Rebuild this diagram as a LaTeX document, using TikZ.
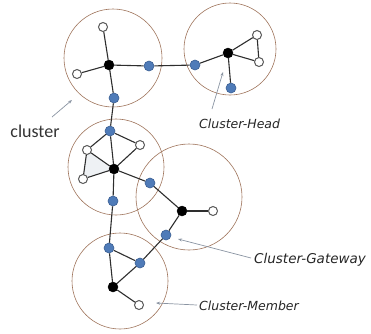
\documentclass[tikz,border=0pt]{standalone}
\usepackage{fontspec}
\setmainfont{Carlito}
\newfontfamily\annfont{DejaVu Sans}
\usetikzlibrary{arrows.meta}
\definecolor{ringc}{HTML}{9E735A}
\definecolor{bluen}{HTML}{4F7BB8}
\definecolor{bluedk}{HTML}{3A5E92}
\definecolor{edgec}{HTML}{2E2E2E}
\definecolor{ptrc}{HTML}{8A94A2}
\definecolor{shadec}{HTML}{EEF1F4}
\tikzset{
  ring/.style={draw=ringc, line width=0.6pt, circle, inner sep=0pt},
  bnode/.style={circle, fill=bluen, draw=bluedk, line width=0.6pt, inner sep=0pt, minimum size=10pt},
  hnode/.style={circle, fill=black, draw=black, inner sep=0pt, minimum size=10pt},
  wnode/.style={circle, fill=white, draw=edgec!80, line width=1pt, inner sep=0pt, minimum size=9pt},
  link/.style={draw=edgec, line width=1.1pt},
  ptr/.style={draw=ptrc, line width=0.7pt, -{Stealth[length=4pt,width=3pt]}},
  anno/.style={font=\annfont\itshape\fontsize{12.5}{14}\selectfont, text=black!85, inner sep=0pt},
}
\begin{document}
\begin{tikzpicture}[x=1pt,y=-1pt]
\useasboundingbox (0,0) rectangle (371,333);
% clusters
\node[ring, minimum size=98pt] (c1) at (113,58) {};
\node[ring, minimum size=92pt] (c2) at (230,49) {};
\node[ring, minimum size=96pt] (c3) at (116,167) {};
\node[ring, minimum size=106pt] (c4) at (189,197) {};
\node[ring, minimum size=96pt] (c5) at (120,281) {};
% shaded triangle
\fill[shadec] (87,150) -- (83,179) -- (114,169) -- cycle;
% nodes
\node[hnode] (h1) at (109,65) {};
\node[wnode] (w1a) at (103,27) {};
\node[wnode] (w1b) at (77,74) {};
\node[bnode] (b1r) at (149,66) {};
\node[bnode] (b1d) at (114,98) {};
\node[bnode] (b2l) at (195,65) {};
\node[hnode] (h2) at (228,53) {};
\node[wnode] (w2a) at (257,35) {};
\node[wnode] (w2b) at (259,62) {};
\node[bnode] (b2d) at (231,88) {};
\node[bnode] (b3t) at (110,131) {};
\node[wnode] (w3a) at (87,150) {};
\node[wnode] (w3b) at (140,145) {};
\node[hnode] (h3) at (114,169) {};
\node[wnode] (w3c) at (83,179) {};
\node[bnode] (b3d) at (113,201) {};
\node[bnode] (g34) at (150,183) {};
\node[hnode] (h4) at (182,211) {};
\node[wnode] (w4) at (213,211) {};
\node[bnode] (g45) at (166,235) {};
\node[bnode] (b5a) at (109,248) {};
\node[bnode] (b5b) at (140,263) {};
\node[hnode] (h5) at (113,287) {};
\node[wnode] (w5) at (139,305) {};
% links
\draw[link] (h1) -- (w1a);
\draw[link] (h1) -- (w1b);
\draw[link] (h1) -- (b1r);
\draw[link] (h1) -- (b1d);
\draw[link] (b1r) -- (b2l);
\draw[link] (b2l) -- (h2);
\draw[link] (h2) -- (w2a);
\draw[link] (h2) -- (w2b);
\draw[link] (w2a) -- (w2b);
\draw[link] (h2) -- (b2d);
\draw[link] (b1d) -- (b3t);
\draw[link] (b3t) -- (w3a);
\draw[link] (b3t) -- (w3b);
\draw[link] (b3t) -- (h3);
\draw[link] (w3b) -- (h3);
\draw[link] (w3a) -- (h3);
\draw[link] (w3a) -- (w3c);
\draw[link] (w3c) -- (h3);
\draw[link] (h3) -- (b3d);
\draw[link] (h3) -- (g34);
\draw[link] (g34) -- (h4);
\draw[link] (h4) -- (w4);
\draw[link] (h4) -- (g45);
\draw[link] (g45) -- (b5b);
\draw[link] (b3d) -- (b5a);
\draw[link] (b5a) -- (b5b);
\draw[link] (b5a) -- (h5);
\draw[link] (b5b) -- (h5);
\draw[link] (h5) -- (w5);
% annotations
\node[font=\fontsize{18}{20}\selectfont, text=black!80, inner sep=0pt] (tcl) at (35,131) {cluster};
\coordinate (pc1) at (52,117);
\coordinate (pc2) at (72,100);
\draw[ptr] (pc1) -- (pc2);
\node[anno, anchor=west] (thead) at (199,124) {Cluster-Head};
\coordinate (ph1) at (212,109);
\coordinate (ph2) at (223,72);
\draw[ptr] (ph1) -- (ph2);
\node[anno, anchor=west, font=\annfont\itshape\fontsize{13.5}{15}\selectfont] (tgw) at (254,260) {Cluster-Gateway};
\coordinate (pg1) at (251,258);
\coordinate (pg2) at (178,239);
\draw[ptr] (pg1) -- (pg2);
\node[anno, anchor=west] (tmem) at (199,306) {Cluster-Member};
\coordinate (pm1) at (197,305);
\coordinate (pm2) at (156,303);
\draw[ptr] (pm1) -- (pm2);
\end{tikzpicture}
\end{document}
